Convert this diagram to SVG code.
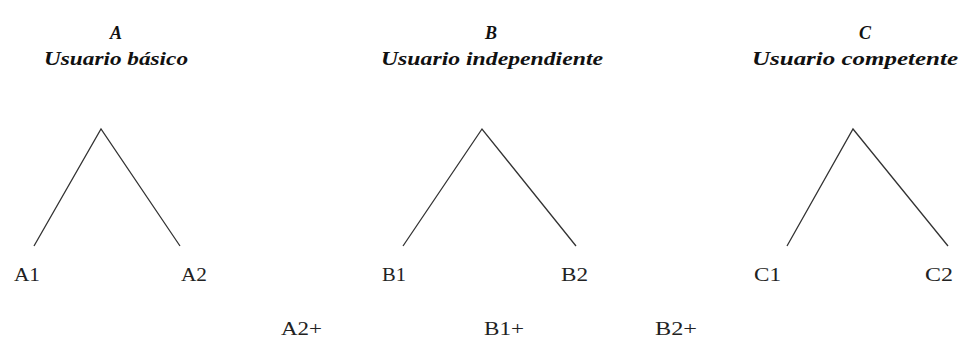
<svg xmlns="http://www.w3.org/2000/svg" width="966" height="338" viewBox="0 0 966 338">
<style>
.t{font-family:"Liberation Serif","DejaVu Serif",serif;font-size:18px;font-weight:bold;font-style:italic;fill:#111;}
.l{font-family:"Liberation Serif","DejaVu Serif",serif;font-size:18px;fill:#222;}
.c{stroke:#333;stroke-width:1.3;fill:none;}
</style>
<rect width="966" height="338" fill="#fff"/>
<g id="groupA">
<text class="t" x="116" y="39" text-anchor="middle">A</text>
<text class="t" x="44" y="65" textLength="144" lengthAdjust="spacingAndGlyphs">Usuario básico</text>
</g>
<g id="groupB">
<text class="t" x="491" y="39" text-anchor="middle">B</text>
<text class="t" x="381" y="65" textLength="222" lengthAdjust="spacingAndGlyphs">Usuario independiente</text>
</g>
<g id="groupC">
<text class="t" x="865" y="39" text-anchor="middle">C</text>
<text class="t" x="752" y="65" textLength="206" lengthAdjust="spacingAndGlyphs">Usuario competente</text>
</g>
<g id="connectors">
<polyline class="c" points="34,246 101,129 180,246"/>
<polyline class="c" points="403,246 482,129 576,246"/>
<polyline class="c" points="787,246 853,129 948,246"/>
</g>
<g id="A1"><text class="l" x="14" y="281" textLength="26" lengthAdjust="spacingAndGlyphs">A1</text></g>
<g id="A2"><text class="l" x="181" y="281" textLength="26" lengthAdjust="spacingAndGlyphs">A2</text></g>
<g id="B1"><text class="l" x="382" y="281" textLength="24" lengthAdjust="spacingAndGlyphs">B1</text></g>
<g id="B2"><text class="l" x="561" y="281" textLength="27" lengthAdjust="spacingAndGlyphs">B2</text></g>
<g id="C1"><text class="l" x="754" y="281" textLength="27" lengthAdjust="spacingAndGlyphs">C1</text></g>
<g id="C2"><text class="l" x="925" y="281" textLength="28" lengthAdjust="spacingAndGlyphs">C2</text></g>
<g id="A2plus"><text class="l" x="281" y="335" textLength="41" lengthAdjust="spacingAndGlyphs">A2+</text></g>
<g id="B1plus"><text class="l" x="484" y="335" textLength="40" lengthAdjust="spacingAndGlyphs">B1+</text></g>
<g id="B2plus"><text class="l" x="655" y="335" textLength="42" lengthAdjust="spacingAndGlyphs">B2+</text></g>
</svg>
